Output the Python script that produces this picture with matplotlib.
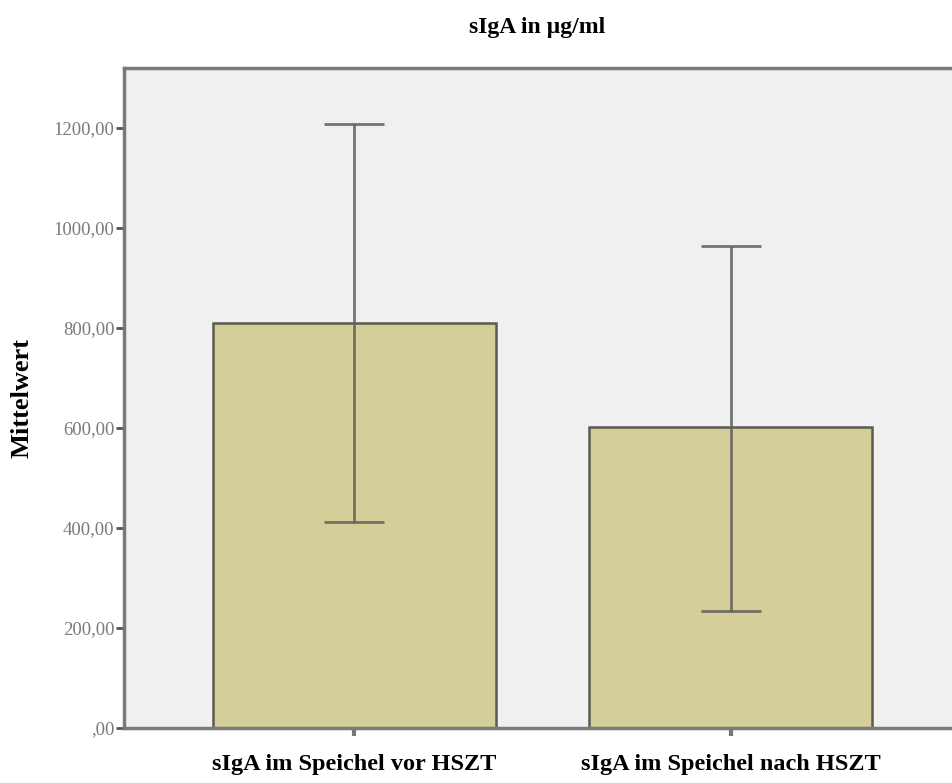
import matplotlib
matplotlib.use("Agg")
import matplotlib.pyplot as plt
from matplotlib.ticker import FuncFormatter

# --- Données ---
categories = ["sIgA im Speichel vor HSZT", "sIgA im Speichel nach HSZT"]
mittelwert = [810, 602]
fehler_oben = [1208, 964]
fehler_unten = [412, 234]
y_ticks = [0, 200, 400, 600, 800, 1000, 1200]

plt.rcParams["font.family"] = ["Liberation Serif", "DejaVu Serif"]

fig = plt.figure(figsize=(9.52, 7.83), dpi=100)
# axes: gauche 124 px, haut 68 px, bas 728 px, la droite dépasse le cadre
ax = fig.add_axes([124 / 952, 1 - 728 / 783, (961 - 124) / 952, (728 - 68) / 783])
ax.set_facecolor("#f0f0f0")

x = list(range(len(categories)))
yerr = [
    [m - lo for m, lo in zip(mittelwert, fehler_unten)],
    [hi - m for m, hi in zip(mittelwert, fehler_oben)],
]
ax.bar(x, mittelwert, width=0.753, color="#d4cf98", edgecolor="#5a5a50", linewidth=1.8, zorder=2)
ax.errorbar(x, mittelwert, yerr=yerr, fmt="none", ecolor="#606058", elinewidth=2.0,
            capsize=21.5, capthick=2.0, alpha=0.85, zorder=3)

ax.set_xlim(-0.613, 1.613)
ax.set_ylim(0, 1320)
ax.set_yticks(y_ticks)
ax.yaxis.set_major_formatter(FuncFormatter(
    lambda v, p: ",00" if v == 0 else f"{int(v)},00"))
ax.set_xticks(x)
ax.set_xticklabels(categories, fontsize=17.5, fontweight="bold")
ax.tick_params(axis="x", length=6, width=3, color="#777777", pad=13)
ax.tick_params(axis="y", length=6, width=2, color="#555555", labelsize=13.5,
               labelcolor="#7a7a7a", pad=1)

for side in ["left", "bottom", "top"]:
    ax.spines[side].set_color("#7a7a7a")
    ax.spines[side].set_linewidth(2.5)
ax.spines["right"].set_visible(False)

ax.set_ylabel("Mittelwert", fontsize=19, fontweight="bold", labelpad=14)
fig.text(537 / 952, 1 - 27 / 783, "sIgA in µg/ml", fontsize=17, fontweight="bold",
         ha="center", va="center")

fig.savefig("out.png", dpi=100)
